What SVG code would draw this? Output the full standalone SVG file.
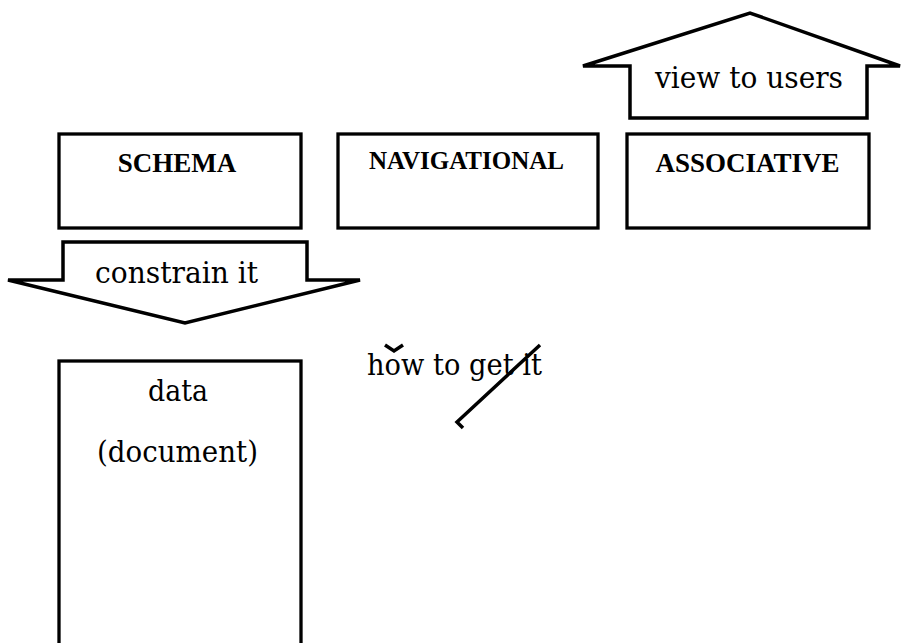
<svg xmlns="http://www.w3.org/2000/svg" width="903" height="643" viewBox="0 0 903 643">
<style>
.box{fill:#fff;stroke:#000;stroke-width:3.3}
.arr{fill:#fff;stroke:#000;stroke-width:3.5;stroke-linejoin:miter}
.t{font-family:"DejaVu Serif","Liberation Serif",serif;font-size:30px;fill:#000}
.b{font-family:"Liberation Serif",serif;font-weight:bold;fill:#000;text-anchor:middle}
.ln{fill:none;stroke:#000;stroke-width:3.5}
</style>
<rect width="903" height="643" fill="#fff"/>
<g id="schema">
<rect class="box" x="59" y="134" width="242" height="94"/>
<text class="b" x="177" y="172" font-size="27">SCHEMA</text>
</g>
<g id="navigational">
<rect class="box" x="338" y="134" width="260" height="94"/>
<text class="b" x="466.5" y="169" font-size="25">NAVIGATIONAL</text>
</g>
<g id="associative">
<rect class="box" x="627" y="134" width="242" height="94"/>
<text class="b" x="747.5" y="172" font-size="27">ASSOCIATIVE</text>
</g>
<g id="data">
<rect class="box" x="59" y="361" width="242" height="300"/>
<text class="t" x="148" y="401" textLength="60" lengthAdjust="spacingAndGlyphs">data</text>
<text class="t" x="97" y="462" textLength="161" lengthAdjust="spacingAndGlyphs">(document)</text>
</g>
<g id="view-arrow">
<polygon class="arr" points="630,118 630,66 583,66 750,13 900,66 867,66 867,118"/>
<text class="t" x="655" y="88" textLength="188" lengthAdjust="spacingAndGlyphs">view to users</text>
</g>
<g id="constrain-arrow">
<polygon class="arr" points="63,242 307,242 307,280 360,280 185,323 8,280 63,280"/>
<text class="t" x="95" y="283" textLength="163" lengthAdjust="spacingAndGlyphs">constrain it</text>
</g>
<g id="how">
<text class="t" x="367" y="375" textLength="175" lengthAdjust="spacingAndGlyphs">how to get it</text>
</g>
<g id="connectors">
<polyline class="ln" points="385,345 394,351 403,345"/>
<polyline class="ln" points="540,345 457,422 463,428"/>
</g>
</svg>
